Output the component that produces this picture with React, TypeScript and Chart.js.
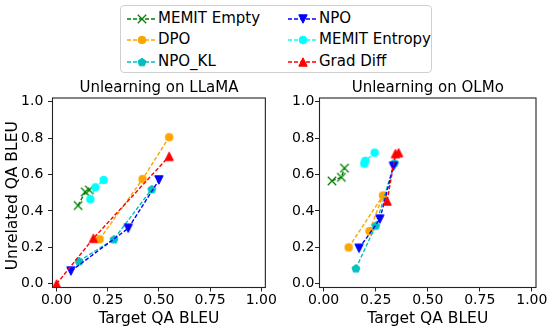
import React, { useEffect, useRef } from "react";
import { Chart, registerables } from "chart.js";

Chart.register(...registerables);

// ---------- data ----------
const seriesNames = ["MEMIT Empty", "DPO", "NPO_KL", "NPO", "MEMIT Entropy", "Grad Diff"];
const seriesColors = ["#008000", "#FFA500", "#00BFBF", "#0000FF", "#00FFFF", "#FF0000"];
const seriesMarkers = ["x", "circle", "pentagon", "triangleDown", "circle", "triangleUp"];

// Unlearning on LLaMA: [target QA BLEU, unrelated QA BLEU]
const llamaMemitEmpty = [[0.105, 0.43], [0.14, 0.505], [0.16, 0.515]];
const llamaDpo = [[0.21, 0.245], [0.42, 0.575], [0.55, 0.805]];
const llamaNpoKl = [[0.11, 0.125], [0.28, 0.245], [0.465, 0.52]];
const llamaNpo = [[0.07, 0.07], [0.35, 0.305], [0.5, 0.57]];
const llamaMemitEntropy = [[0.165, 0.465], [0.19, 0.53], [0.23, 0.57]];
const llamaGradDiff = [[0.0, 0.0], [0.18, 0.25], [0.55, 0.7]];

// Unlearning on OLMo
const olmoMemitEmpty = [[0.04, 0.565], [0.085, 0.585], [0.1, 0.635]];
const olmoDpo = [[0.12, 0.2], [0.285, 0.485], [0.22, 0.29]];
const olmoNpoKl = [[0.155, 0.085], [0.25, 0.32], [0.34, 0.665]];
const olmoNpo = [[0.17, 0.195], [0.27, 0.355], [0.335, 0.645]];
const olmoMemitEntropy = [[0.195, 0.66], [0.2, 0.675], [0.245, 0.72]];
const olmoGradDiff = [[0.305, 0.455], [0.345, 0.715], [0.36, 0.72]];

const llamaSeries = [llamaMemitEmpty, llamaDpo, llamaNpoKl, llamaNpo, llamaMemitEntropy, llamaGradDiff];
const olmoSeries = [olmoMemitEmpty, olmoDpo, olmoNpoKl, olmoNpo, olmoMemitEntropy, olmoGradDiff];

const xTickValues = [0, 0.25, 0.5, 0.75, 1.0];
const yTickValues = [0, 0.2, 0.4, 0.6, 0.8, 1.0];
const axisMin = -0.02;
const axisMax = 1.02;

const FONT = '"DejaVu Sans", sans-serif';
const DASH = [4, 2];

// ---------- markers ----------
function markerPath(ctx: CanvasRenderingContext2D, kind: string, cx: number, cy: number, r: number) {
  ctx.beginPath();
  if (kind === "circle") {
    ctx.arc(cx, cy, r * 0.92, 0, Math.PI * 2);
  } else if (kind === "triangleUp") {
    ctx.moveTo(cx, cy - r);
    ctx.lineTo(cx - r, cy + r);
    ctx.lineTo(cx + r, cy + r);
    ctx.closePath();
  } else if (kind === "triangleDown") {
    ctx.moveTo(cx, cy + r);
    ctx.lineTo(cx - r, cy - r);
    ctx.lineTo(cx + r, cy - r);
    ctx.closePath();
  } else if (kind === "pentagon") {
    for (let i = 0; i < 5; i++) {
      const a = -Math.PI / 2 + (i * 2 * Math.PI) / 5;
      const px = cx + Math.cos(a) * r;
      const py = cy + Math.sin(a) * r * 1.0 + r * 0.1;
      if (i === 0) ctx.moveTo(px, py);
      else ctx.lineTo(px, py);
    }
    ctx.closePath();
  } else if (kind === "x") {
    ctx.moveTo(cx - r, cy - r);
    ctx.lineTo(cx + r, cy + r);
    ctx.moveTo(cx - r, cy + r);
    ctx.lineTo(cx + r, cy - r);
  }
}

function makeMarker(kind: string, color: string): HTMLCanvasElement {
  const size = 14;
  const c = document.createElement("canvas");
  c.width = size;
  c.height = size;
  const ctx = c.getContext("2d")!;
  const r = 4.2;
  markerPath(ctx, kind, size / 2, size / 2, r);
  ctx.strokeStyle = color;
  ctx.fillStyle = color;
  if (kind === "x") {
    ctx.lineWidth = 1.3;
    ctx.stroke();
  } else {
    ctx.fill();
    ctx.lineWidth = 1;
    ctx.stroke();
  }
  return c;
}

// ---------- plugins ----------
function framePlugin() {
  return {
    id: "frame",
    beforeDatasetsDraw(chart: any) {
      const { ctx, chartArea } = chart;
      ctx.save();
      ctx.strokeStyle = "#222";
      ctx.lineWidth = 1.1;
      ctx.strokeRect(chartArea.left, chartArea.top, chartArea.right - chartArea.left, chartArea.bottom - chartArea.top);
      ctx.restore();
    },
  };
}

function textPlugin(title: string, yTitle: string | null) {
  return {
    id: "panelText",
    afterDraw(chart: any) {
      const { ctx, chartArea } = chart;
      ctx.save();
      ctx.fillStyle = "#000";
      ctx.font = `15px ${FONT}`;
      ctx.textAlign = "center";
      ctx.textBaseline = "alphabetic";
      ctx.fillText(title, (chartArea.left + chartArea.right) / 2, chartArea.top - 6);
      ctx.font = `15.5px ${FONT}`;
      ctx.textBaseline = "middle";
      ctx.fillText("Target QA BLEU", (chartArea.left + chartArea.right) / 2, chartArea.bottom + 31);
      if (yTitle) {
        ctx.translate(12.5, (chartArea.top + chartArea.bottom) / 2 + 3);
        ctx.rotate(-Math.PI / 2);
        ctx.fillText(yTitle, 0, 0);
      }
      ctx.restore();
    },
  };
}

type PanelProps = {
  title: string;
  series: number[][][];
  left: number;
  yAxisWidth: number;
  padRight: number;
  yTickPad: number;
  yTitle: string | null;
};

function Panel({ title, series, left, yAxisWidth, padRight, yTickPad, yTitle }: PanelProps) {
  const ref = useRef<HTMLCanvasElement>(null);
  useEffect(() => {
    const n = seriesNames.length;
    const datasets = series.map((pts, i) => ({
      label: seriesNames[i],
      data: pts.map((p) => ({ x: p[0], y: p[1] })),
      showLine: true,
      borderColor: seriesColors[i],
      backgroundColor: seriesColors[i],
      borderWidth: 1.4,
      borderDash: DASH,
      pointStyle: makeMarker(seriesMarkers[i], seriesColors[i]) as any,
      pointRadius: 5,
      pointHoverRadius: 5,
      order: n - i,
    }));
    const chart = new Chart(ref.current!, {
      type: "scatter",
      data: { datasets: datasets as any },
      options: {
        animation: false,
        responsive: false,
        devicePixelRatio: 1,
        layout: { padding: { top: 23, right: padRight, bottom: 0, left: 0 } },
        plugins: { legend: { display: false }, tooltip: { enabled: false }, title: { display: false } },
        scales: {
          x: {
            type: "linear",
            min: axisMin,
            max: axisMax,
            afterBuildTicks: (scale: any) => {
              scale.ticks = xTickValues.map((v) => ({ value: v }));
            },
            afterFit: (scale: any) => {
              scale.height = 44.5;
            },
            ticks: {
              color: "#000",
              font: { family: FONT, size: 14 },
              padding: 0,
              maxRotation: 0,
              minRotation: 0,
              autoSkip: false,
              callback: (v: any) => Number(v).toFixed(2),
            },
            grid: { display: true, drawOnChartArea: false, drawTicks: true, tickLength: 4, tickColor: "#222", tickWidth: 1 },
            border: { display: false },
          },
          y: {
            type: "linear",
            min: axisMin,
            max: axisMax,
            afterBuildTicks: (scale: any) => {
              scale.ticks = yTickValues.map((v) => ({ value: v }));
            },
            afterFit: (scale: any) => {
              scale.width = yAxisWidth;
            },
            ticks: {
              color: "#000",
              font: { family: FONT, size: 14 },
              padding: yTickPad,
              autoSkip: false,
              callback: (v: any) => Number(v).toFixed(1),
            },
            grid: { display: true, drawOnChartArea: false, drawTicks: true, tickLength: 4.5, tickColor: "#222", tickWidth: 1 },
            border: { display: false },
          },
        },
      },
      plugins: [framePlugin(), textPlugin(title, yTitle)],
    });
    return () => chart.destroy();
  }, []);
  return (
    <canvas
      ref={ref}
      width={277}
      height={257}
      style={{ position: "absolute", left, top: 75, width: 277, height: 257, display: "block" }}
    />
  );
}

function LegendMarker({ kind, color }: { kind: string; color: string }) {
  const cx = 15;
  const cy = 7;
  const r = 4.2;
  let shape: any = null;
  if (kind === "circle") shape = <circle cx={cx} cy={cy} r={r * 0.92} fill={color} stroke={color} strokeWidth={1} />;
  else if (kind === "triangleUp")
    shape = <polygon points={`${cx},${cy - r} ${cx - r},${cy + r} ${cx + r},${cy + r}`} fill={color} stroke={color} strokeWidth={1} />;
  else if (kind === "triangleDown")
    shape = <polygon points={`${cx},${cy + r} ${cx - r},${cy - r} ${cx + r},${cy - r}`} fill={color} stroke={color} strokeWidth={1} />;
  else if (kind === "pentagon") {
    const pts = [0, 1, 2, 3, 4]
      .map((i) => {
        const a = -Math.PI / 2 + (i * 2 * Math.PI) / 5;
        return `${cx + Math.cos(a) * r},${cy + Math.sin(a) * r + r * 0.1}`;
      })
      .join(" ");
    shape = <polygon points={pts} fill={color} stroke={color} strokeWidth={1} />;
  } else if (kind === "x")
    shape = (
      <path d={`M${cx - r},${cy - r}L${cx + r},${cy + r}M${cx - r},${cy + r}L${cx + r},${cy - r}`} stroke={color} strokeWidth={1.3} fill="none" />
    );
  return (
    <svg width={30} height={14} style={{ position: "absolute", left: 0, top: 0 }}>
      <line x1={0} y1={cy} x2={30} y2={cy} stroke={color} strokeWidth={1.4} strokeDasharray={DASH.join(" ")} />
      {shape}
    </svg>
  );
}

function Legend() {
  const colX = [126, 287];
  const rowY = [17.8, 39.2, 60.8];
  const items = seriesNames.map((name, i) => {
    const col = Math.floor(i / 3);
    const row = i % 3;
    return (
      <div key={name} style={{ position: "absolute", left: colX[col] - 120, top: rowY[row] - 5 - 7 }}>
        <LegendMarker kind={seriesMarkers[i]} color={seriesColors[i]} />
        <span
          style={{
            position: "absolute",
            left: 31,
            top: 7 - 8.2 - 0.7,
            fontFamily: FONT,
            fontSize: 15,
            lineHeight: "17px",
            whiteSpace: "nowrap",
            color: "#000",
          }}
        >
          {name}
        </span>
      </div>
    );
  });
  return (
    <div
      style={{
        position: "absolute",
        left: 120,
        top: 5,
        width: 312,
        height: 68,
        border: "1px solid #d0d0d0",
        borderRadius: 4,
        background: "#fff",
        boxSizing: "border-box",
      }}
    >
      {items}
    </div>
  );
}

export default function App() {
  return (
    <div style={{ position: "absolute", left: 0, top: 0, width: 554, height: 332, background: "#fff", overflow: "hidden" }}>
      <Legend />
      <Panel
        title="Unlearning on LLaMA"
        series={llamaSeries}
        left={0}
        yAxisWidth={52.5}
        padRight={8}
        yTickPad={4.7}
        yTitle="Unrelated QA BLEU"
      />
      <Panel
        title="Unlearning on OLMo"
        series={olmoSeries}
        left={277}
        yAxisWidth={42.5}
        padRight={18}
        yTickPad={0.7}
        yTitle={null}
      />
    </div>
  );
}
